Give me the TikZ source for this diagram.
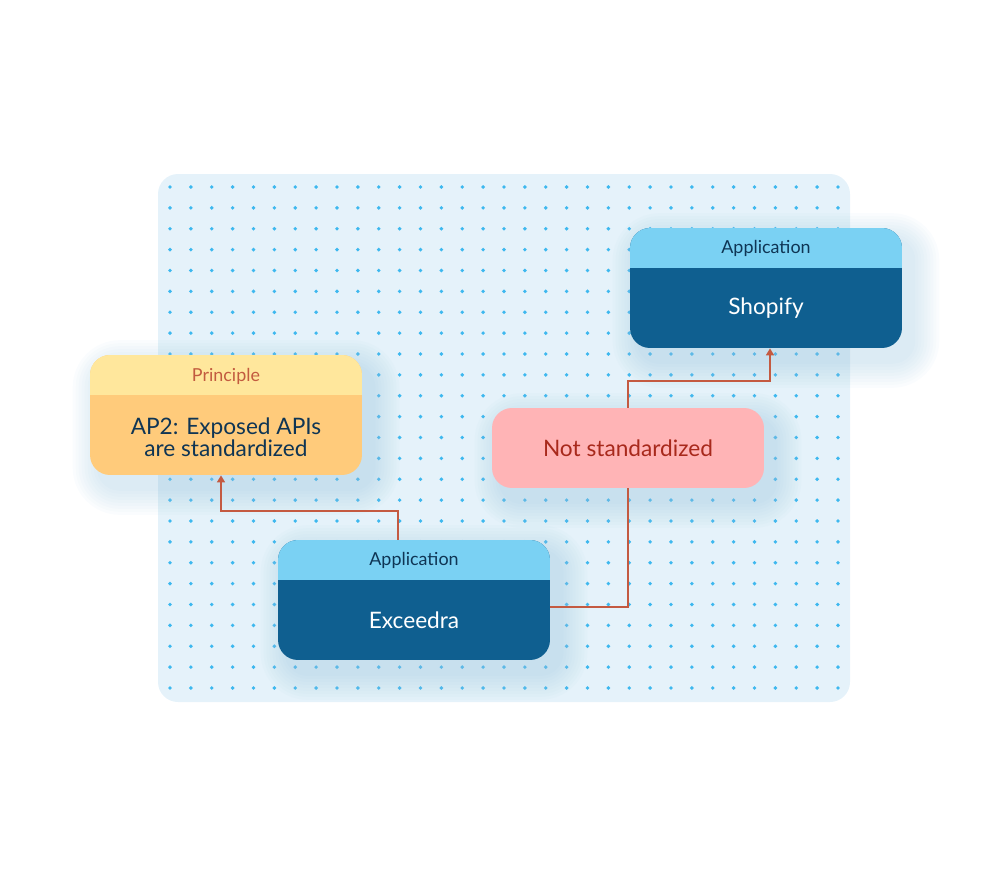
\documentclass[tikz,border=0pt]{standalone}
\usepackage{fontspec}
\setmainfont{Lato}
\usetikzlibrary{arrows.meta,backgrounds}
\definecolor{panelblue}{HTML}{E5F2FA}
\definecolor{dotblue}{HTML}{3DB8EF}
\definecolor{headblue}{HTML}{7AD1F3}
\definecolor{darkblue}{HTML}{0F5F90}
\definecolor{navytext}{HTML}{0F3554}
\definecolor{headyellow}{HTML}{FFE79C}
\definecolor{bodyorange}{HTML}{FFCB7B}
\definecolor{rusttext}{HTML}{C25B3F}
\definecolor{pinkfill}{HTML}{FFB4B6}
\definecolor{redtext}{HTML}{A8291C}
\definecolor{linkred}{HTML}{C45A41}
\definecolor{shadowblue}{HTML}{A3CBE2}
% soft shadow behind a card
\newcommand{\softshadow}[1]{%
  \foreach \k in {1,...,9}
    \fill[shadowblue, opacity=0.05, rounded corners=0.4cm+\k*0.06cm]
      ([shift={(-\k*0.06cm+0.2cm,\k*0.06cm-0.25cm)}]#1.north west)
      rectangle ([shift={(\k*0.06cm+0.2cm,-\k*0.06cm-0.25cm)}]#1.south east);}
\begin{document}
\begin{tikzpicture}[
    x=0.02cm, y=-0.02cm,
    card/.style={minimum width=5.44cm, minimum height=2.4cm, rounded corners=0.4cm},
    appcard/.style={card, fill=darkblue,
                    path picture={\fill[headblue, sharp corners] (path picture bounding box.north west)
                      rectangle ([yshift=-0.8cm]path picture bounding box.north east);}},
    rulecard/.style={card, fill=bodyorange,
                     path picture={\fill[headyellow, sharp corners] (path picture bounding box.north west)
                       rectangle ([yshift=-0.8cm]path picture bounding box.north east);}},
    head/.style={font=\fontsize{10.2}{12}\selectfont, text=navytext},
    cardtitle/.style={font=\fontsize{12.9}{11.4}\selectfont, text=white, align=center},
    link/.style={draw=linkred, line width=1pt, -{Triangle[width=4.5pt,length=4pt]}}
]
  \useasboundingbox (0,0) rectangle (1008,876);

  % dotted panel
  \begin{scope}[on background layer]
    \fill[panelblue, rounded corners=0.4cm] (158,174) rectangle (850,702);
    \foreach \i in {0,...,32}
      \foreach \j in {0,...,24}
        \fill[dotblue] (170+20.875*\i, 187+20.875*\j) circle (0.038cm);
  \end{scope}

  % Shopify
  \node[appcard] (shopify) at (766,288) {};
  \node[head] (shopifyhead) at (766,248) {Application};
  \node[cardtitle] (shopifyname) at (766,308) {Shopify};

  % Principle
  \node[rulecard] (principle) at (226,415) {};
  \node[head, text=rusttext] (principlehead) at (226,376) {Principle};
  \node[cardtitle, text=navytext] (principlename) at (226,437) {AP2: Exposed APIs\\are standardized};

  % label on the connector
  \node[card, minimum height=1.6cm, fill=pinkfill, text=redtext,
        font=\fontsize{12.9}{14}\selectfont] (notstd) at (628,448) {Not standardized};

  % Exceedra
  \node[appcard] (exceedra) at (414,600) {};
  \node[head] (exceedrahead) at (414,560) {Application};
  \node[cardtitle] (exceedraname) at (414,620) {Exceedra};

  % shadows and connectors
  \begin{scope}[on background layer]
    \softshadow{shopify}
    \softshadow{principle}
    \softshadow{notstd}
    \softshadow{exceedra}
    \draw[link] ([xshift=-0.32cm]exceedra.north) -- ++(0,0.58cm)
      -| ([xshift=-0.1cm]principle.south);
    \draw[link] ([yshift=-0.14cm]exceedra.east) -| ([yshift=1.34cm]notstd.center)
      -| ([xshift=0.08cm]shopify.south);
  \end{scope}
\end{tikzpicture}
\end{document}
